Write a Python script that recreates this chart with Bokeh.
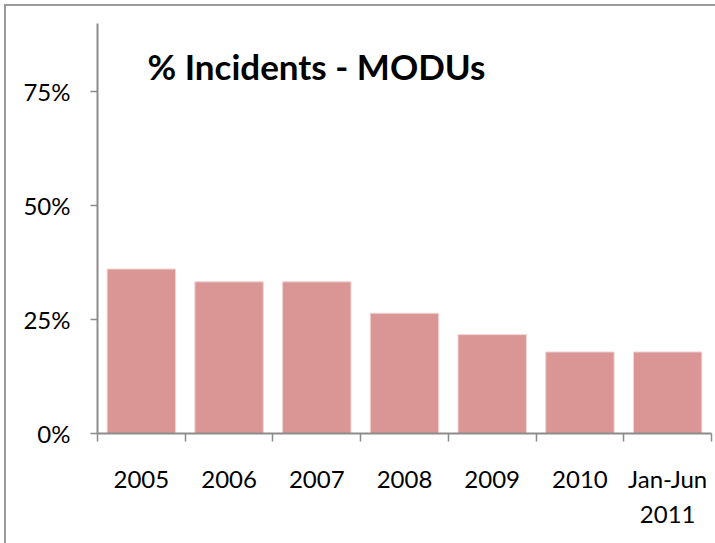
from bokeh.plotting import figure
from bokeh.models import Range1d, FixedTicker, NumeralTickFormatter, Label, ColumnDataSource, InlineStyleSheet, Div, Spacer
from bokeh.layouts import column
from bokeh.embed import file_html
from bokeh.resources import INLINE

# ---- data ----
categories = ["2005", "2006", "2007", "2008", "2009", "2010", "Jan-Jun\n2011"]
share = [0.361, 0.333, 0.333, 0.264, 0.217, 0.179, 0.179]
y_ticks = [0, 0.25, 0.5, 0.75]
title_text = "% Incidents - MODUs"

centers = [i + 0.5 for i in range(len(categories))]
bounds = list(range(len(categories) + 1))

src = ColumnDataSource(dict(x=centers, top=share, cat=categories))

p = figure(width=709, height=537,
           x_range=Range1d(0, len(categories)), y_range=Range1d(0, 0.9),
           output_backend="svg", toolbar_location=None,
           min_border_left=91, min_border_right=4,
           min_border_top=17, min_border_bottom=110)
p.margin = (0, 0, 0, 6)
p.stylesheets = [InlineStyleSheet(css=":host { box-shadow: -2px 0 0 0 #9a9a9a; }")]
p.background_fill_color = "white"
p.border_fill_color = "white"
p.outline_line_color = None
p.grid.visible = False

p.vbar(x="x", top="top", width=0.78, source=src,
       fill_color="#D99694", line_color="#F0D4D3", line_width=1)

axis_color = "#8c8c8c"

# x axis: labels at centres, ticks at category boundaries
xa = p.xaxis[0]
xa.ticker = FixedTicker(ticks=centers, minor_ticks=bounds)
xa.major_label_overrides = {c: lab for c, lab in zip(centers, categories)}
xa.major_tick_out = 0
xa.major_tick_in = 0
xa.major_tick_line_color = None
xa.minor_tick_out = 8
xa.minor_tick_in = 0
xa.minor_tick_line_color = axis_color
xa.minor_tick_line_width = 1.5
xa.axis_line_color = axis_color
xa.axis_line_width = 2
xa.major_label_text_font = "Lato"
xa.major_label_text_font_size = "24px"
xa.major_label_text_color = "black"
xa.major_label_text_line_height = 1.22
xa.major_label_standoff = 22

ya = p.yaxis[0]
ya.ticker = FixedTicker(ticks=y_ticks, minor_ticks=[])
ya.formatter = NumeralTickFormatter(format="0%")
ya.major_tick_out = 7
ya.major_tick_in = 0
ya.major_tick_line_color = axis_color
ya.major_tick_line_width = 1.5
ya.minor_tick_line_color = None
ya.axis_line_color = axis_color
ya.axis_line_width = 2
ya.major_label_text_font = "Lato"
ya.major_label_text_font_size = "24px"
ya.major_label_text_color = "black"
ya.major_label_standoff = 20

p.add_layout(Label(x=0.57, y=0.806, text=title_text, text_font="Lato",
                   text_font_style="bold", text_font_size="35px",
                   text_color="black", text_baseline="alphabetic"))

# outer chart frame: top edge
top_edge = Div(text="", width=711, height=2, margin=(0, 0, 0, 4),
               styles={"background-color": "#9a9a9a"})
layout = column(Spacer(height=4, width=715, margin=0), top_edge, p, spacing=0)

open("out.html", "w").write(file_html(layout, INLINE))
